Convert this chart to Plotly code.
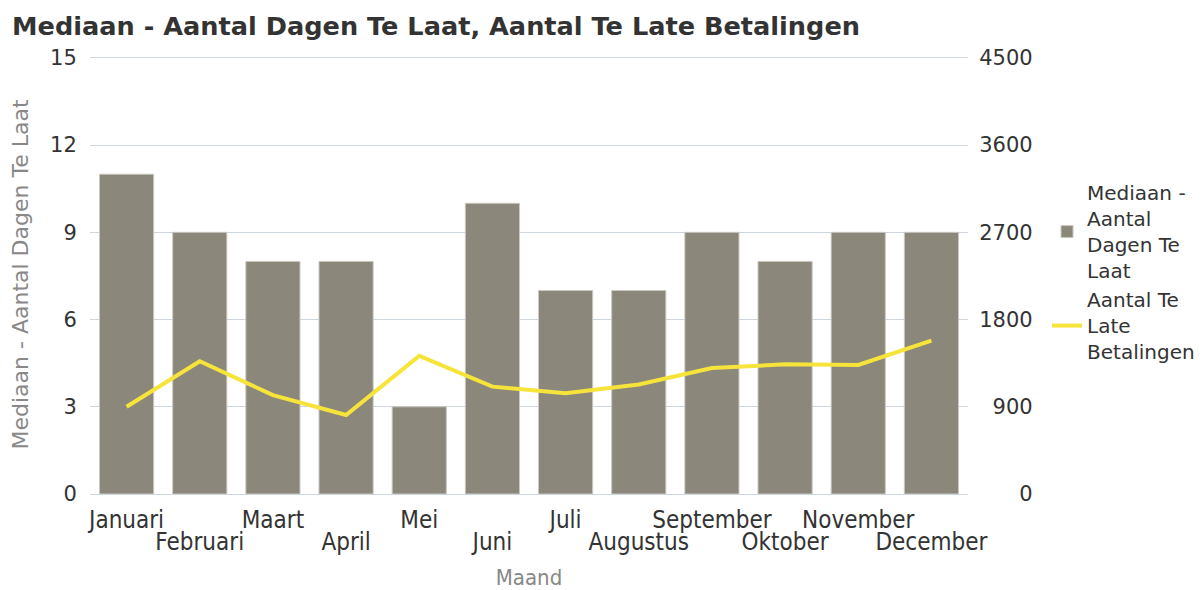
import plotly.graph_objects as go

months = ["Januari", "Februari", "Maart", "April", "Mei", "Juni", "Juli",
          "Augustus", "September", "Oktober", "November", "December"]
median_days = [11, 9, 8, 8, 3, 10, 7, 7, 9, 8, 9, 9]
late_payments = [900, 1370, 1020, 815, 1425, 1108, 1040, 1130, 1300, 1338, 1332, 1582]
left_ticks = [0, 3, 6, 9, 12, 15]
right_ticks = [0, 900, 1800, 2700, 3600, 4500]

row1 = months[0::2]
row2 = months[1::2]
# right-aligned right-axis labels (figure spaces have digit width)
right_text = [str(v).rjust(4, "\u2007") for v in right_ticks]

fig = go.Figure()
fig.add_trace(go.Bar(
    x=months, y=median_days, name="Mediaan -<br>Aantal<br>Dagen Te<br>Laat",
    marker=dict(color="#8b887b", line=dict(color="#c9c7bf", width=1)),
    width=0.74, yaxis="y",
))
fig.add_trace(go.Scatter(
    x=months, y=late_payments, name="Aantal Te<br>Late<br>Betalingen",
    mode="lines", line=dict(color="#f7e43a", width=4), yaxis="y2",
))
# carrier (draws nothing) so the second-row label axis is rendered
fig.add_trace(go.Scatter(
    x=months, y=median_days, mode="none", xaxis="x2", yaxis="y",
    showlegend=False, hoverinfo="skip",
))

month_font = dict(family="DejaVu Sans Condensed", size=24, color="#333333")

fig.update_layout(
    width=1204, height=590,
    margin=dict(l=82, r=220, t=47, b=104),
    paper_bgcolor="white", plot_bgcolor="white",
    font=dict(family="DejaVu Sans", size=21, color="#333333"),
    title=dict(text="<b>Mediaan - Aantal Dagen Te Laat, Aantal Te Late Betalingen</b>",
               x=0.0034, xanchor="left", y=0.969, yanchor="middle",
               font=dict(family="DejaVu Sans", size=25.6, color="#333333")),
    xaxis=dict(
        type="category", categoryorder="array", categoryarray=months,
        tickmode="array", tickvals=row1, ticktext=row1, tickangle=0,
        tickfont=month_font, showgrid=False, showline=False, ticks="",
        ticklabelstandoff=9, automargin=False,
    ),
    xaxis2=dict(
        type="category", categoryorder="array", categoryarray=months,
        overlaying="x", matches="x", anchor="y", side="bottom",
        tickmode="array", tickvals=row2, ticktext=row2, tickangle=0,
        tickfont=month_font, showgrid=False, showline=False, ticks="",
        ticklabelstandoff=31, automargin=False,
        title=dict(text="Maand", font=dict(family="DejaVu Sans Condensed", size=22, color="#888888"),
                   standoff=14),
    ),
    yaxis=dict(
        range=[0, 15.1], tickvals=left_ticks, showgrid=True, gridcolor="#cdd5df", gridwidth=1,
        zeroline=True, zerolinecolor="#cdd5df", zerolinewidth=1,
        ticks="outside", ticklen=8, tickcolor="rgba(0,0,0,0)", automargin=False,
        tickfont=dict(size=21, color="#333333"),
        title=dict(text="Mediaan - Aantal Dagen Te Laat", font=dict(size=22, color="#888888")),
    ),
    yaxis2=dict(
        range=[0, 4530], tickmode="array", tickvals=right_ticks, ticktext=right_text,
        overlaying="y", side="right",
        showgrid=False, zeroline=False, ticks="outside", ticklen=6, tickcolor="rgba(0,0,0,0)",
        automargin=False, tickfont=dict(size=21, color="#333333"),
    ),
    legend=dict(x=1.09, y=0.731, xanchor="left", yanchor="top",
                font=dict(size=20, color="#333333"), tracegroupgap=0),
    bargap=0.26,
)

fig.write_html("out.html")
